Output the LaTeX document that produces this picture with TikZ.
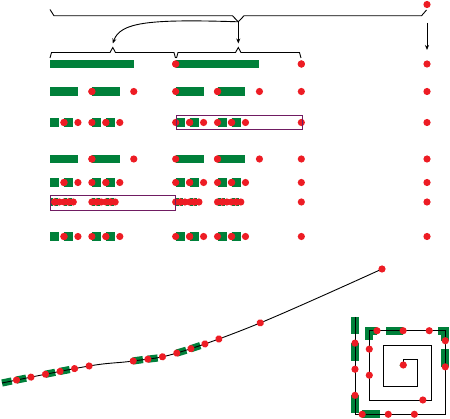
\documentclass[tikz,border=0pt]{standalone}
\usetikzlibrary{decorations.markings,arrows.meta}
\definecolor{gr}{RGB}{0,128,58}
\definecolor{rd}{RGB}{237,28,36}
\definecolor{pu}{RGB}{112,28,98}
\newcommand\rdmark{\fill[rd] (0pt,0pt) circle (3.6pt);}
\newcommand\grmark{\fill[gr] (0pt,-3.6pt) rectangle (9.85pt,3.6pt);}
\pgfkeys{/pgf/decoration/dotmark/.style={mark=at position #1 with {\rdmark}},
 /pgf/decoration/dashmark/.style={mark=at position #1 with {\grmark}}}
\tikzset{
  arr/.style={-{Stealth[length=5pt,width=4pt]}, line width=0.9pt},
  bracestyle/.style={line width=0.9pt},
  boxstyle/.style={draw=pu, line width=0.9pt},
}
% #1 y, #2 list of starts (1/27 units), #3 bar length, #4 step
\newcommand\cantorrow[4]{%
 \foreach \k in {0,1}{\foreach \q in {#2}{%
   \fill[gr] ({50+\U*(\k+\q/27)},{#1-4.3}) rectangle ({50+\U*(\k+(\q+#3)/27)},{#1+4.3});}}%
 \foreach \k in {0,1}{\foreach \q in {#2}{%
   \fill[rd] ({50+\U*(\k+(\q+#4)/27)},#1) circle (3.6pt);%
   \ifnum\numexpr\k*100+\q\relax>0 \fill[rd] ({50+\U*(\k+\q/27)},#1) circle (3.6pt);\fi}}%
 \fill[rd] ({50+2*\U},#1) circle (3.6pt);%
 \fill[rd] ({50+3*\U},#1) circle (3.6pt);}
\begin{document}
\begin{tikzpicture}[x=1pt,y=-1pt]
\useasboundingbox (0,0) rectangle (450,419);
\pgfmathsetmacro{\U}{125.67}

% top dot and braces
\fill[rd] (427,4.5) circle (3.6pt);
\coordinate (tb) at (238.3,21.8);
\coordinate (lb) at (112.8,47.5);
\coordinate (rb) at (238.3,47.5);
\coordinate (rt) at (427,23);
\coordinate (ra) at (427,50);
\draw[bracestyle] (50,9.5)--(54,15.8)--(232.5,15.8)--(tb)--(244,15.8)--(421.5,15.8)--(426.5,10);
\draw[bracestyle] (50,58)--(51.5,52.5)--(110,52.5)--(lb)--(115.5,52.5)--(174,52.5)--(175.5,58);
\draw[bracestyle] (176.5,58)--(178,52.5)--(235.5,52.5)--(rb)--(241,52.5)--(299.5,52.5)--(301,58);
\draw[arr] (tb) -- ([yshift=4pt]rb);
\draw[arr] (tb) .. controls (150,19) and (120,22) .. ([yshift=4pt]lb);
\draw[arr] (rt) -- (ra);

% rows
\cantorrow{64}{0}{18}{27}
\cantorrow{91.5}{0,9}{6}{9}
\cantorrow{122.5}{0,3,9,12}{2}{3}
\cantorrow{159}{0,9}{6}{9}
\cantorrow{182.5}{0,3,9,12}{2}{3}
\cantorrow{202}{0,1,3,4,9,10,12,13}{0.6667}{1}
\cantorrow{236.5}{0,3,9,12}{2}{3}

\draw[boxstyle] ({50+\U+1},115.5) rectangle ({50+2*\U+1.5},129.3);
\draw[boxstyle] (50.7,195.7) rectangle ({50+\U},210.3);

% curve
\draw[line width=0.9pt,
  preaction={decorate, decoration={markings, dashmark/.list={0.0001,0.03704,0.11111,0.14815,0.33333,0.37037,0.44444,0.48148}}},
  postaction={decorate, decoration={markings, dotmark/.list={0.03704,0.07407,0.11111,0.14815,0.18519,0.22222,0.33333,0.37037,0.40741,0.44444,0.48148,0.51852,0.55556,0.66667}}}]
  plot[smooth, tension=0.6] coordinates {(2,383) (89,366) (133,361) (177,353) (260,323) (382,269)};
\fill[rd] (382,269) circle (3.6pt);

% spiral
\draw[line width=0.9pt,
  preaction={draw=gr, line width=8.3pt, dash pattern=on 17.41pt off 8.705pt on 17.41pt off 34.82pt on 17.41pt off 8.705pt on 17.41pt off 113.16pt on 17.41pt off 8.705pt on 17.41pt off 34.82pt on 17.41pt off 8.705pt on 17.41pt off 348.19pt},
  postaction={decorate, decoration={markings, dotmark/.list={0.03704,0.07407,0.11111,0.14815,0.18519,0.22222,0.33333,0.37037,0.40741,0.44444,0.48148,0.51852,0.55556,0.66667}}}]
  (355,317) -- (355,414.3) -- (445.3,414.3) -- (445.3,330.7) -- (369.3,330.7) -- (369.3,400) -- (431.7,400) -- (431.7,345) -- (383.3,345) -- (383.3,386) -- (417.7,386) -- (417.7,359) -- (403.3,359) -- (403.3,365);
\fill[rd] (403.3,365) circle (3.6pt);
\end{tikzpicture}
\end{document}
